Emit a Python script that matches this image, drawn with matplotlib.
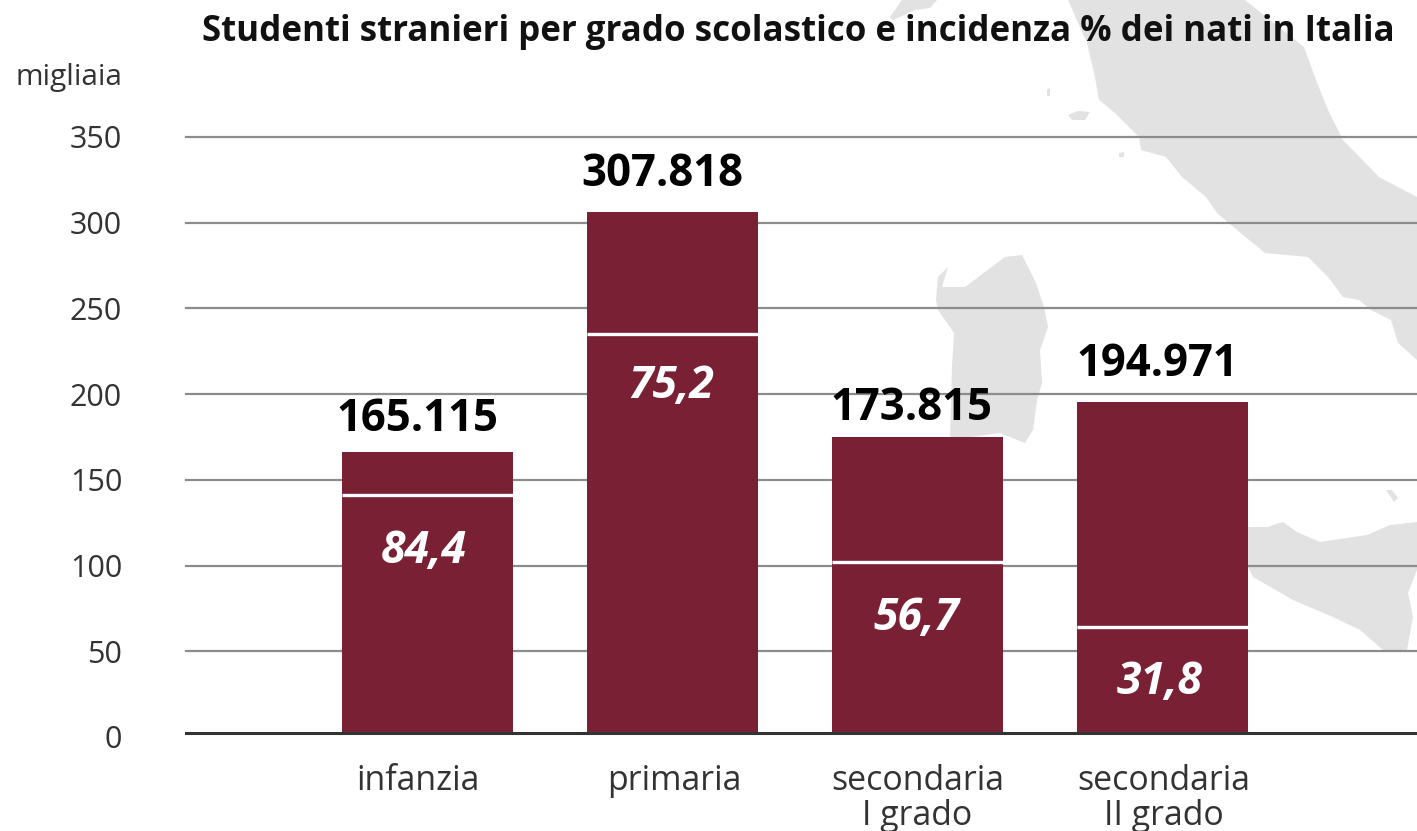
import matplotlib
matplotlib.use('Agg')
import matplotlib.pyplot as plt
from matplotlib.patches import Polygon

plt.rcParams['font.family'] = ['Open Sans', 'DejaVu Sans']

# data
categories = ['infanzia', 'primaria', 'secondaria\nI grado', 'secondaria\nII grado']
altezze = [165, 306, 174, 194.5]  # heights as drawn in the picture
totali_label = ['165.115', '307.818', '173.815', '194.971']
nati_italia = [139.5, 234.5, 100.5, 62.5]
incidenza_label = ['84,4', '75,2', '56,7', '31,8']
y_ticks = [0, 50, 100, 150, 200, 250, 300, 350]

# background map, in pixels of the image
italia = [(1068, 0), (1087, 43), (1095, 77), (1099, 100), (1115, 113), (1139, 137), (1141, 150),
          (1166, 157), (1182, 177), (1206, 197), (1217, 213), (1237, 230), (1265, 253), (1308, 257),
          (1328, 277), (1343, 297), (1359, 300), (1371, 310), (1391, 320), (1398, 343), (1417, 360),
          (1417, 197), (1379, 177), (1343, 140), (1328, 110), (1316, 80), (1304, 47), (1245, 0)]
liguria = [(902, 0), (890, 17), (893, 20), (915, 10), (930, 8), (937, 0)]
sardegna = [(938, 277), (948, 267), (942, 287), (965, 287), (1005, 257), (1022, 255), (1036, 283),
            (1044, 307), (1048, 327), (1040, 350), (1042, 383), (1037, 400), (1033, 430), (1025, 443),
            (1000, 433), (950, 440), (952, 367), (954, 333), (938, 310), (936, 300)]
sicilia = [(1248, 527), (1267, 527), (1283, 522), (1297, 532), (1320, 542), (1367, 535), (1390, 525),
           (1417, 522), (1417, 570), (1408, 593), (1413, 617), (1407, 650), (1383, 650), (1360, 630),
           (1333, 617), (1293, 600), (1253, 577), (1248, 567)]
isole = [[(1068, 115), (1078, 111), (1090, 112), (1085, 120), (1072, 120)],
         [(1047, 90), (1050, 88), (1050, 96), (1047, 96)],
         [(1119, 153), (1124, 152), (1124, 157), (1119, 157)],
         [(1386, 490), (1392, 490), (1398, 498), (1394, 502)]]

W, H = 1417, 831
fig = plt.figure(figsize=(W / 100, H / 100), dpi=100)


def box(left, top, right, bottom):
    return [left / W, 1 - bottom / H, (right - left) / W, (bottom - top) / H]


bg = fig.add_axes([0, 0, 1, 1])
bg.set_xlim(0, W)
bg.set_ylim(H, 0)
bg.axis('off')
for shape in [italia, liguria, sardegna, sicilia] + isole:
    bg.add_patch(Polygon(shape, closed=True, fc='#e2e2e2', ec='none'))

# grid and tick labels sit on a slightly different zero than the bars, as in the original
grid = fig.add_axes(box(186, 137, 1417, 737))
grid.patch.set_alpha(0)
grid.set_ylim(0, 350)
grid.set_xticks([])
grid.set_yticks(y_ticks)
grid.set_yticklabels(y_ticks, fontsize=22, color='#333333')
grid.tick_params(axis='y', length=0, pad=46)
grid.grid(axis='y', color='#8c8c8c', lw=1.6, clip_on=False)
for s in grid.spines.values():
    s.set_visible(False)
grid.get_ygridlines()[0].set_visible(False)

ax = fig.add_axes(box(186, 137, 1417, 733))
ax.patch.set_alpha(0)
ax.set_ylim(0, 350)
ax.set_xlim(-0.986, 4.039)
ax.set_yticks([])
ax.set_xticks([])
x = list(range(len(categories)))
ax.bar(x, altezze, width=0.698, color='#7a2035', zorder=2)
ax.hlines(nati_italia, [i - 0.349 for i in x], [i + 0.349 for i in x], color='white', lw=2.4, zorder=3)
for s in ['top', 'left', 'right']:
    ax.spines[s].set_visible(False)
ax.spines['bottom'].set_color('#333333')
ax.spines['bottom'].set_linewidth(2.2)
ax.spines['bottom'].set_zorder(4)

# label offsets in points, the original labels are not quite centred
value_dx = [-7, -7, -4, -4]
value_dy = [23.5, 27, 20, 27]
pct_dx = [-3, -1, -1, -2]
pct_dy = [-40, -38, -41, -40]
cat_dx = [-7, 1, 0, 1]
for i in x:
    ax.annotate(totali_label[i], (i, altezze[i]), xytext=(value_dx[i], value_dy[i]), textcoords='offset points',
                ha='center', va='center', fontsize=31.5, fontweight='bold', color='black', zorder=5)
    ax.annotate(incidenza_label[i], (i, nati_italia[i]), xytext=(pct_dx[i], pct_dy[i]), textcoords='offset points',
                ha='center', va='center', fontsize=32, fontweight='bold', style='italic', color='white', zorder=5)
    ax.annotate(categories[i], (i, 0), xytext=(cat_dx[i], -22), textcoords='offset points',
                ha='center', va='top', fontsize=24.4, color='#333333', linespacing=1.05, annotation_clip=False)

fig.text(1395 / W, 1 - 32 / H, 'Studenti stranieri per grado scolastico e incidenza % dei nati in Italia',
         ha='right', va='center', fontsize=25.1, fontweight='bold', color='#111111')
fig.text(122 / W, 1 - 77 / H, 'migliaia', ha='right', va='center', fontsize=21.5, color='#333333')

fig.savefig('out.png', dpi=100)
